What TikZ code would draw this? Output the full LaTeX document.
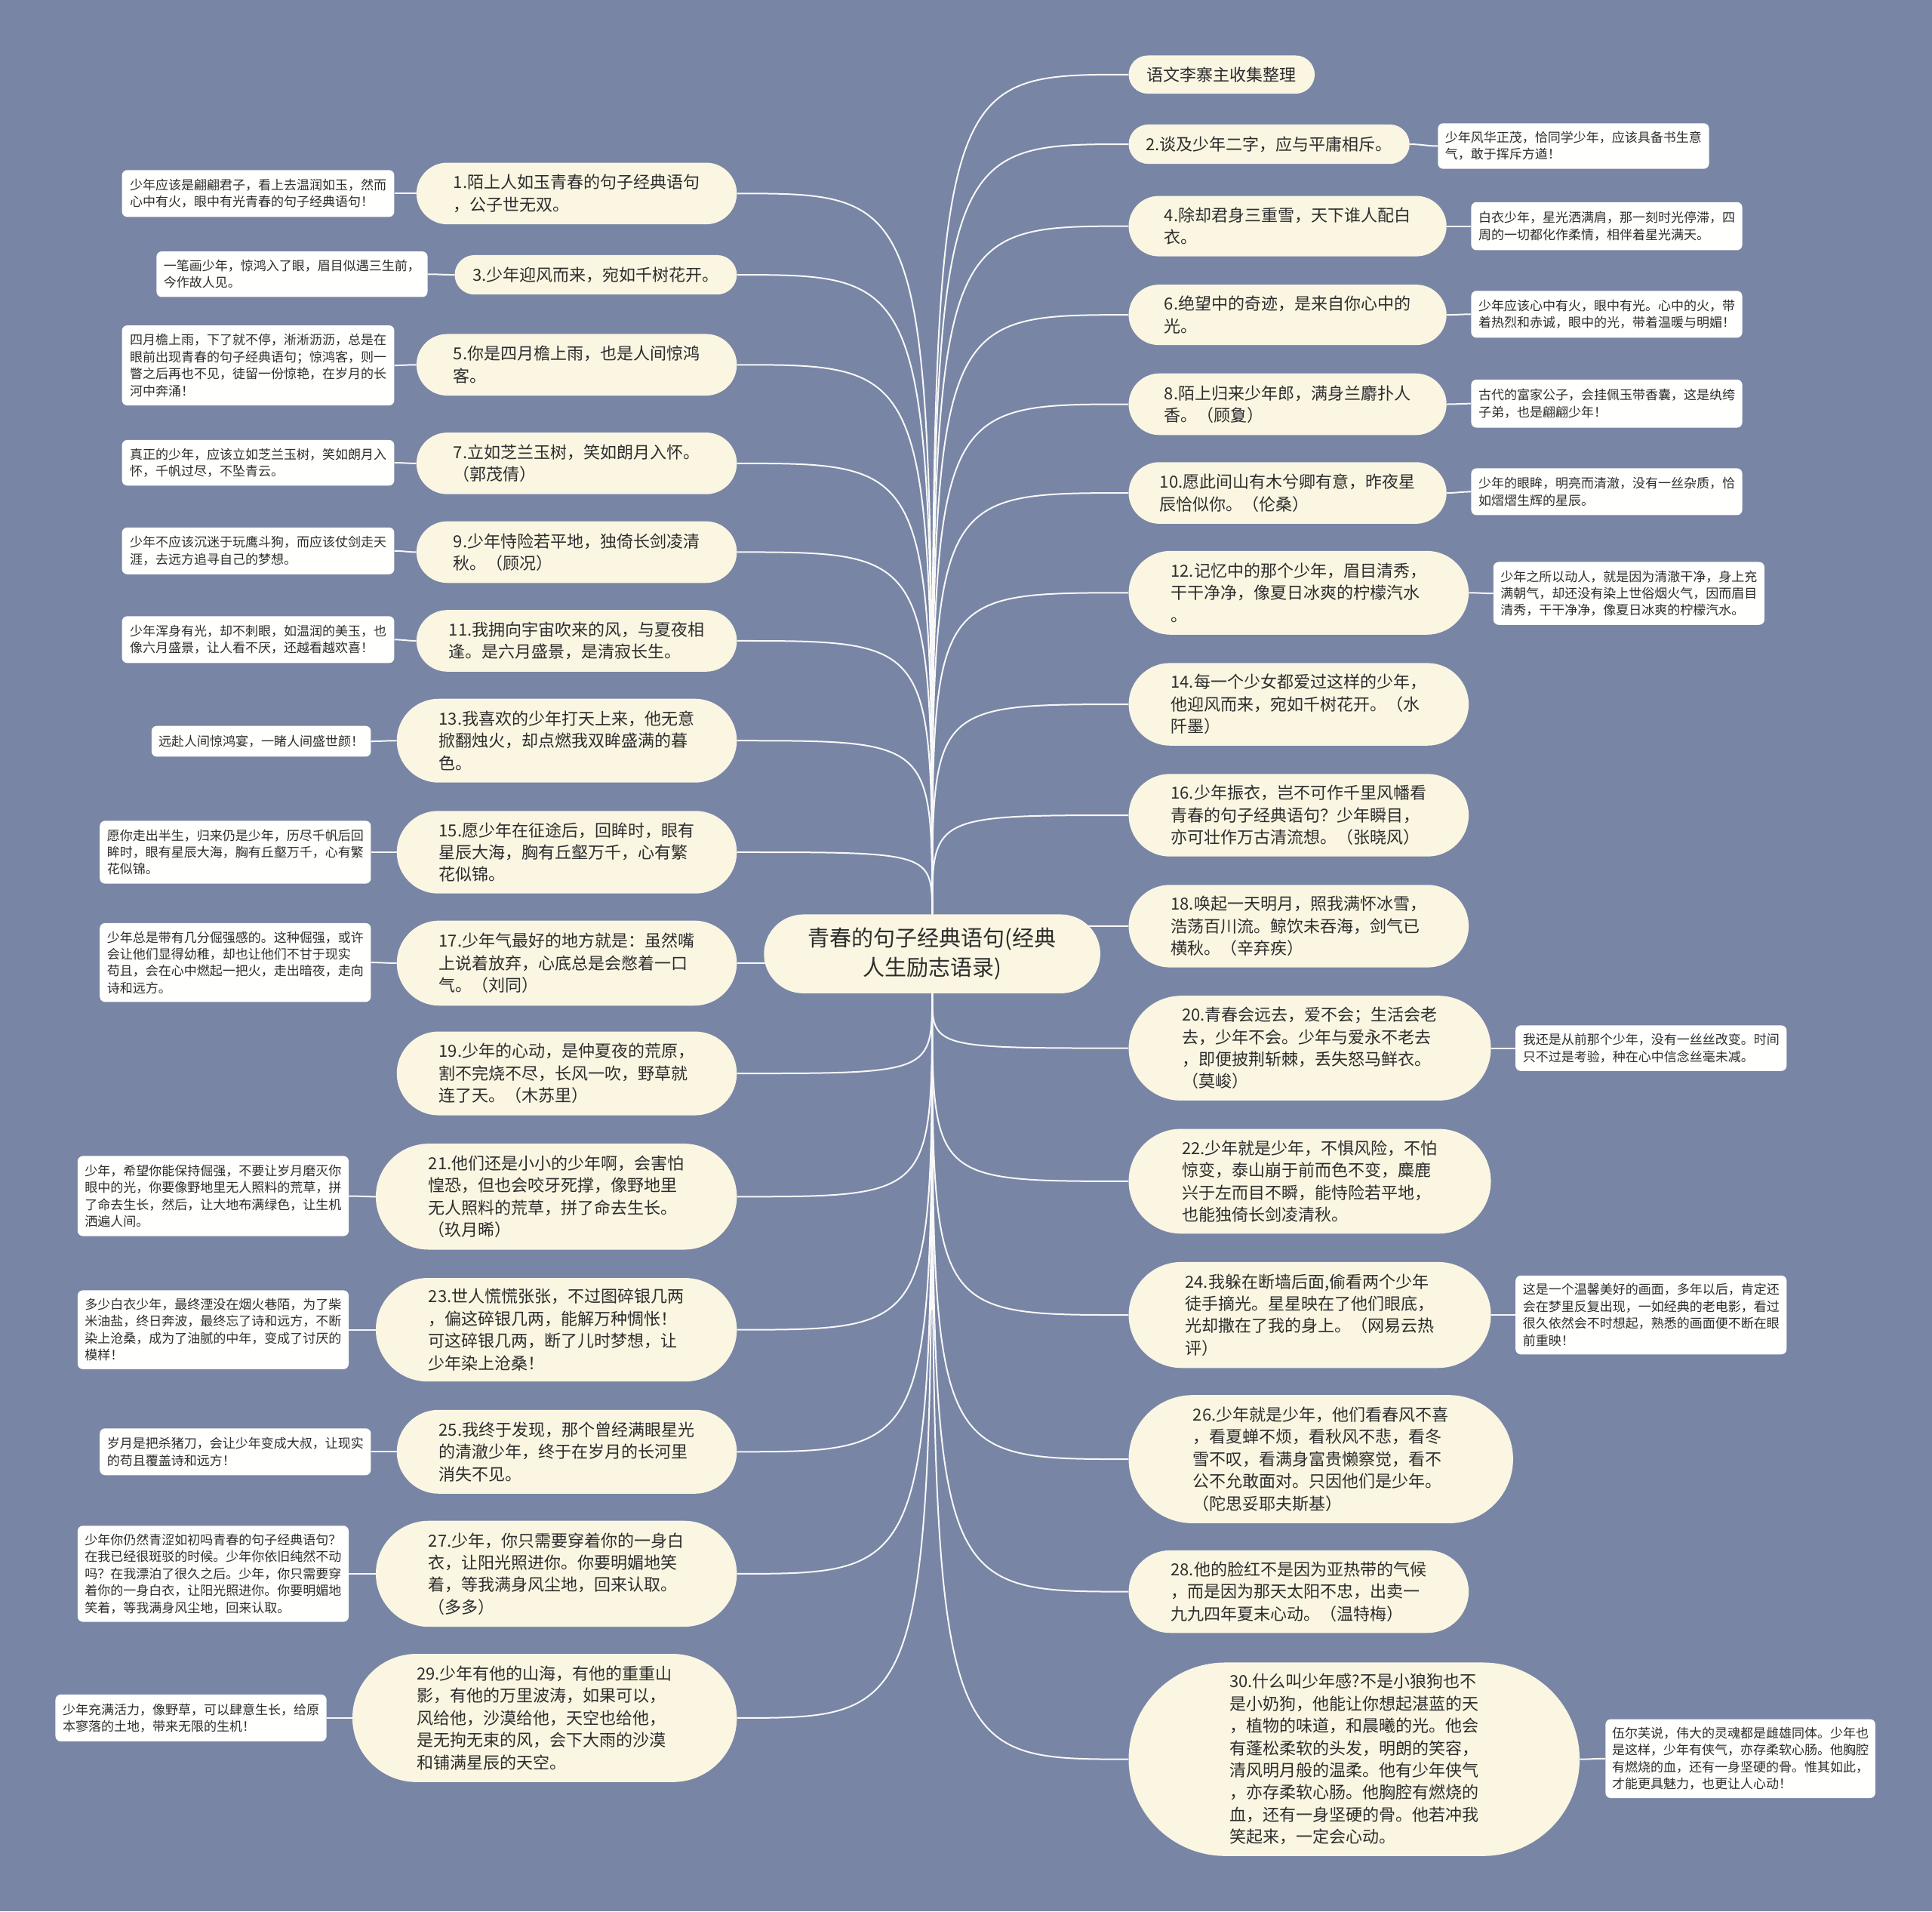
\documentclass[tikz,border=0pt]{standalone}
\usepackage{fontspec}
\setmainfont{Noto Sans CJK SC}
\pgfdeclarelayer{bg}
\pgfsetlayers{bg,main}
\definecolor{bgc}{RGB}{120,133,165}
\definecolor{cream}{RGB}{250,246,226}
\definecolor{notec}{RGB}{255,255,253}
\definecolor{txt}{RGB}{45,45,45}
\definecolor{linec}{RGB}{248,248,248}
\tikzset{
  branch/.style={fill=cream, text=txt, align=left, inner sep=0pt, font=\fontsize{22pt}{29.4pt}\selectfont},
  notebox/.style={fill=notec, text=txt, align=left, inner sep=0pt, font=\fontsize{17pt}{22.4pt}\selectfont},
  rootnode/.style={fill=cream, text=txt, align=center, inner sep=0pt, font=\fontsize{29pt}{39pt}\selectfont},
  link/.style={draw=linec, line width=2pt},
}
\newcommand\bx[8]{%
  \pgfmathsetmacro\bxw{(#6-#4)*1.63265}%
  \pgfmathsetmacro\bxh{(#7-#5)*1.63265}%
  \pgfmathsetmacro\bxr{min(\bxh/2,#2)}%
  \node[#1, minimum width=\bxw pt, minimum height=\bxh pt, rounded corners=\bxr pt] (#3) at ({(#4+#6)/2},{(#5+#7)/2}) {#8};}
\begin{document}
\begin{tikzpicture}[x=1.63265pt, y=-1.63265pt]
\useasboundingbox (0,0) rectangle (1568,1551);
\begin{pgfonlayer}{bg}
\fill[bgc] (0,0) rectangle (1568,1551);
\end{pgfonlayer}
% root
\bx{rootnode}{999}{root}{620}{742}{893}{806}{青春的句子经典语句(经典\\人生励志语录)}
% right branches
\bx{branch}{999}{R0}{916}{45}{1067}{76}{语文李寨主收集整理}
\bx{branch}{999}{R2}{916}{101}{1144}{133}{2.谈及少年二字，应与平庸相斥。}
\bx{branch}{999}{R4}{916}{159}{1174}{208}{4.除却君身三重雪，天下谁人配白\\衣。}
\bx{branch}{999}{R6}{916}{231}{1174}{280}{6.绝望中的奇迹，是来自你心中的\\光。}
\bx{branch}{999}{R8}{916}{303}{1174}{353}{8.陌上归来少年郎，满身兰麝扑人\\香。（顾夐）}
\bx{branch}{999}{R10}{916}{375}{1174}{425}{10.愿此间山有木兮卿有意，昨夜星\\辰恰似你。（伦桑）}
\bx{branch}{999}{R12}{916}{447}{1192}{515}{12.记忆中的那个少年，眉目清秀，\\干干净净，像夏日冰爽的柠檬汽水\\。}
\bx{branch}{999}{R14}{916}{538}{1192}{605}{14.每一个少女都爱过这样的少年，\\他迎风而来，宛如千树花开。（水\\阡墨）}
\bx{branch}{999}{R16}{916}{628}{1192}{695}{16.少年振衣，岂不可作千里风幡看\\青春的句子经典语句？少年瞬目，\\亦可壮作万古清流想。（张晓风）}
\bx{branch}{999}{R18}{916}{718}{1192}{785}{18.唤起一天明月，照我满怀冰雪，\\浩荡百川流。鲸饮未吞海，剑气已\\横秋。（辛弃疾）}
\bx{branch}{999}{R20}{916}{808}{1210}{893}{20.青春会远去，爱不会；生活会老\\去，少年不会。少年与爱永不老去\\，即便披荆斩棘，丢失怒马鲜衣。\\（莫峻）}
\bx{branch}{999}{R22}{916}{916}{1210}{1001}{22.少年就是少年，不惧风险，不怕\\惊变，泰山崩于前而色不变，麋鹿\\兴于左而目不瞬，能恃险若平地，\\也能独倚长剑凌清秋。}
\bx{branch}{999}{R24}{916}{1024}{1210}{1110}{24.我躲在断墙后面,偷看两个少年\\徒手摘光。星星映在了他们眼底，\\光却撒在了我的身上。（网易云热\\评）}
\bx{branch}{999}{R26}{916}{1132}{1228}{1236}{26.少年就是少年，他们看春风不喜\\，看夏蝉不烦，看秋风不悲，看冬\\雪不叹，看满身富贵懒察觉，看不\\公不允敢面对。只因他们是少年。\\（陀思妥耶夫斯基）}
\bx{branch}{999}{R28}{916}{1258}{1192}{1325}{28.他的脸红不是因为亚热带的气候\\，而是因为那天太阳不忠，出卖一\\九九四年夏末心动。（温特梅）}
\bx{branch}{999}{R30}{916}{1349}{1282}{1506}{30.什么叫少年感?不是小狼狗也不\\是小奶狗，他能让你想起湛蓝的天\\，植物的味道，和晨曦的光。他会\\有蓬松柔软的头发，明朗的笑容，\\清风明月般的温柔。他有少年侠气\\，亦存柔软心肠。他胸腔有燃烧的\\血，还有一身坚硬的骨。他若冲我\\笑起来，一定会心动。}
% right notes
\bx{notebox}{7}{N2}{1167}{100}{1387}{137}{少年风华正茂，恰同学少年，应该具备书生意\\气，敢于挥斥方遒！}
\bx{notebox}{7}{N4}{1194}{164}{1414}{203}{白衣少年，星光洒满肩，那一刻时光停滞，四\\周的一切都化作柔情，相伴着星光满天。}
\bx{notebox}{7}{N6}{1194}{236}{1414}{274}{少年应该心中有火，眼中有光。心中的火，带\\着热烈和赤诚，眼中的光，带着温暖与明媚！}
\bx{notebox}{7}{N8}{1194}{308}{1414}{347}{古代的富家公子，会挂佩玉带香囊，这是纨绔\\子弟，也是翩翩少年！}
\bx{notebox}{7}{N10}{1194}{380}{1414}{418}{少年的眼眸，明亮而清澈，没有一丝杂质，恰\\如熠熠生辉的星辰。}
\bx{notebox}{7}{N12}{1212}{456}{1432}{507}{少年之所以动人，就是因为清澈干净，身上充\\满朝气，却还没有染上世俗烟火气，因而眉目\\清秀，干干净净，像夏日冰爽的柠檬汽水。}
\bx{notebox}{7}{N20}{1230}{832}{1450}{869}{我还是从前那个少年，没有一丝丝改变。时间\\只不过是考验，种在心中信念丝毫未减。}
\bx{notebox}{7}{N24}{1230}{1035}{1450}{1099}{这是一个温馨美好的画面，多年以后，肯定还\\会在梦里反复出现，一如经典的老电影，看过\\很久依然会不时想起，熟悉的画面便不断在眼\\前重映！}
\bx{notebox}{7}{N30}{1303}{1395}{1522}{1459}{伍尔芙说，伟大的灵魂都是雌雄同体。少年也\\是这样，少年有侠气，亦存柔软心肠。他胸腔\\有燃烧的血，还有一身坚硬的骨。惟其如此，\\才能更具魅力，也更让人心动！}
% left branches
\bx{branch}{999}{L1}{338}{132}{598}{182}{1.陌上人如玉青春的句子经典语句\\，公子世无双。}
\bx{branch}{999}{L3}{369}{207}{598}{239}{3.少年迎风而来，宛如千树花开。}
\bx{branch}{999}{L5}{338}{271}{598}{321}{5.你是四月檐上雨，也是人间惊鸿\\客。}
\bx{branch}{999}{L7}{338}{351}{598}{401}{7.立如芝兰玉树，笑如朗月入怀。\\（郭茂倩）}
\bx{branch}{999}{L9}{338}{423}{598}{473}{9.少年恃险若平地，独倚长剑凌清\\秋。（顾况）}
\bx{branch}{999}{L11}{338}{495}{598}{545}{11.我拥向宇宙吹来的风，与夏夜相\\逢。是六月盛景，是清寂长生。}
\bx{branch}{999}{L13}{322}{567}{598}{635}{13.我喜欢的少年打天上来，他无意\\掀翻烛火，却点燃我双眸盛满的暮\\色。}
\bx{branch}{999}{L15}{322}{658}{598}{725}{15.愿少年在征途后，回眸时，眼有\\星辰大海，胸有丘壑万千，心有繁\\花似锦。}
\bx{branch}{999}{L17}{322}{747}{598}{816}{17.少年气最好的地方就是：虽然嘴\\上说着放弃，心底总是会憋着一口\\气。（刘同）}
\bx{branch}{999}{L19}{322}{837}{598}{905}{19.少年的心动，是仲夏夜的荒原，\\割不完烧不尽，长风一吹，野草就\\连了天。（木苏里）}
\bx{branch}{999}{L21}{305}{928}{598}{1014}{21.他们还是小小的少年啊，会害怕\\惶恐，但也会咬牙死撑，像野地里\\无人照料的荒草，拼了命去生长。\\（玖月晞）}
\bx{branch}{999}{L23}{305}{1037}{598}{1121}{23.世人慌慌张张，不过图碎银几两\\，偏这碎银几两，能解万种惆怅！\\可这碎银几两，断了儿时梦想，让\\少年染上沧桑！}
\bx{branch}{999}{L25}{322}{1144}{598}{1212}{25.我终于发现，那个曾经满眼星光\\的清澈少年，终于在岁月的长河里\\消失不见。}
\bx{branch}{999}{L27}{305}{1234}{598}{1320}{27.少年，你只需要穿着你的一身白\\衣，让阳光照进你。你要明媚地笑\\着，等我满身风尘地，回来认取。\\（多多）}
\bx{branch}{999}{L29}{286}{1342}{598}{1446}{29.少年有他的山海，有他的重重山\\影，有他的万里波涛，如果可以，\\风给他，沙漠给他，天空也给他，\\是无拘无束的风，会下大雨的沙漠\\和铺满星辰的天空。}
% left notes
\bx{notebox}{7}{M1}{99}{138}{320}{176}{少年应该是翩翩君子，看上去温润如玉，然而\\心中有火，眼中有光青春的句子经典语句！}
\bx{notebox}{7}{M3}{127}{204}{347}{241}{一笔画少年，惊鸿入了眼，眉目似遇三生前，\\今作故人见。}
\bx{notebox}{7}{M5}{99}{264}{320}{329}{四月檐上雨，下了就不停，淅淅沥沥，总是在\\眼前出现青春的句子经典语句；惊鸿客，则一\\瞥之后再也不见，徒留一份惊艳，在岁月的长\\河中奔涌！}
\bx{notebox}{7}{M7}{99}{357}{320}{394}{真正的少年，应该立如芝兰玉树，笑如朗月入\\怀，千帆过尽，不坠青云。}
\bx{notebox}{7}{M9}{99}{428}{320}{466}{少年不应该沉迷于玩鹰斗狗，而应该仗剑走天\\涯，去远方追寻自己的梦想。}
\bx{notebox}{7}{M11}{99}{500}{320}{538}{少年浑身有光，却不刺眼，如温润的美玉，也\\像六月盛景，让人看不厌，还越看越欢喜！}
\bx{notebox}{7}{M13}{123}{589}{301}{614}{远赴人间惊鸿宴，一睹人间盛世颜！}
\bx{notebox}{7}{M15}{81}{666}{301}{717}{愿你走出半生，归来仍是少年，历尽千帆后回\\眸时，眼有星辰大海，胸有丘壑万千，心有繁\\花似锦。}
\bx{notebox}{7}{M17}{81}{749}{301}{813}{少年总是带有几分倔强感的。这种倔强，或许\\会让他们显得幼稚，却也让他们不甘于现实\\苟且，会在心中燃起一把火，走出暗夜，走向\\诗和远方。}
\bx{notebox}{7}{M21}{63}{938}{283}{1003}{少年，希望你能保持倔强，不要让岁月磨灭你\\眼中的光，你要像野地里无人照料的荒草，拼\\了命去生长，然后，让大地布满绿色，让生机\\洒遍人间。}
\bx{notebox}{7}{M23}{63}{1047}{283}{1111}{多少白衣少年，最终湮没在烟火巷陌，为了柴\\米油盐，终日奔波，最终忘了诗和远方，不断\\染上沧桑，成为了油腻的中年，变成了讨厌的\\模样！}
\bx{notebox}{7}{M25}{81}{1159}{301}{1197}{岁月是把杀猪刀，会让少年变成大叔，让现实\\的苟且覆盖诗和远方！}
\bx{notebox}{7}{M27}{63}{1238}{283}{1316}{少年你仍然青涩如初吗青春的句子经典语句？\\在我已经很斑驳的时候。少年你依旧纯然不动\\吗？在我漂泊了很久之后。少年，你只需要穿\\着你的一身白衣，让阳光照进你。你要明媚地\\笑着，等我满身风尘地，回来认取。}
\bx{notebox}{7}{M29}{45}{1375}{265}{1413}{少年充满活力，像野草，可以肆意生长，给原\\本寥落的土地，带来无限的生机！}
% connectors
\begin{pgfonlayer}{bg}
\foreach \n/\s in {R0/north,R2/north,R4/north,R6/north,R8/north,R10/north,R12/north,R14/north,R16/north,R18/north,R20/south,R22/south,R24/south,R26/south,R28/south,R30/south}
  \draw[link] (root.\s) .. controls (root.\s |- \n.west) .. (\n.west);
\foreach \n/\s in {L1/north,L3/north,L5/north,L7/north,L9/north,L11/north,L13/north,L15/north,L17/south,L19/south,L21/south,L23/south,L25/south,L27/south,L29/south}
  \draw[link] (root.\s) .. controls (root.\s |- \n.east) .. (\n.east);
\foreach \a/\b in {R2/N2,R4/N4,R6/N6,R8/N8,R10/N10,R12/N12,R20/N20,R24/N24,R30/N30}
  \draw[link] (\a.east) to[out=0,in=180] (\b.west);
\foreach \a/\b in {L1/M1,L3/M3,L5/M5,L7/M7,L9/M9,L11/M11,L13/M13,L15/M15,L17/M17,L21/M21,L23/M23,L25/M25,L27/M27,L29/M29}
  \draw[link] (\a.west) to[out=180,in=0] (\b.east);
\end{pgfonlayer}
\end{tikzpicture}
\end{document}
